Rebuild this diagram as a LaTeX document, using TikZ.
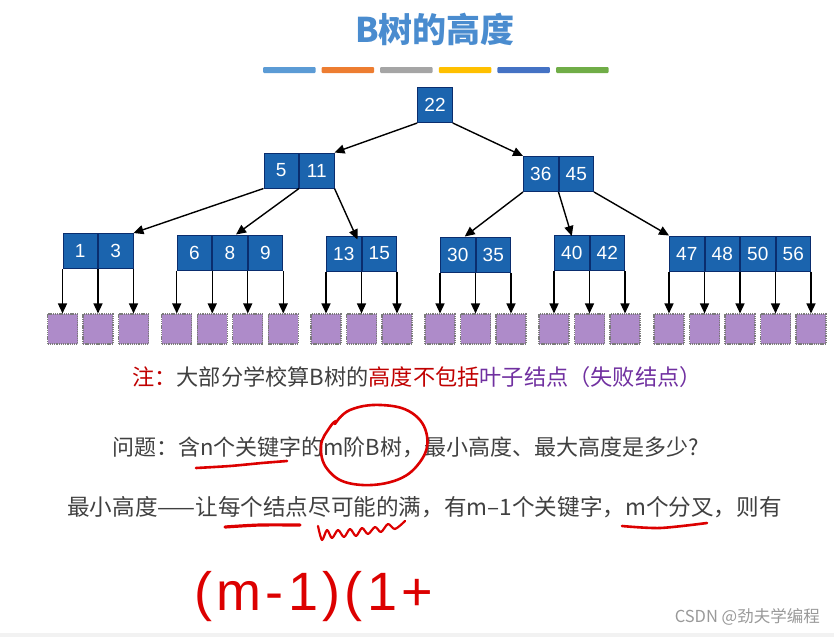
\documentclass[tikz,border=0pt]{standalone}
\usepackage{fontspec}
\setmainfont{Liberation Sans}
\newfontfamily\cjk{Noto Sans CJK SC}
\usetikzlibrary{arrows.meta,positioning}
\definecolor{keyblue}{HTML}{1B64AE}
\definecolor{keyline}{HTML}{0A2D6E}
\definecolor{leafpurple}{HTML}{AE8BC9}
\definecolor{leafline}{HTML}{7A7A7A}
\definecolor{titleblue}{HTML}{4A8CCF}
\definecolor{notered}{HTML}{C00000}
\definecolor{notepurple}{HTML}{7030A0}
\definecolor{textgray}{HTML}{404040}
\definecolor{inkred}{HTML}{DC0000}
\definecolor{barblue}{HTML}{5B9BD5}
\definecolor{barorange}{HTML}{ED7D31}
\definecolor{bargray}{HTML}{A5A5A5}
\definecolor{bargold}{HTML}{FFC000}
\definecolor{bardarkblue}{HTML}{4472C4}
\definecolor{bargreen}{HTML}{70AD47}

\begin{document}
\begin{tikzpicture}[x=1pt, y=-1pt,
  key/.style={draw=keyline, line width=1pt, fill=keyblue, minimum width=34.5pt, minimum height=35pt, inner sep=0pt, text=white, font=\fontsize{19}{19}\selectfont},
  leaf/.style={draw=leafline, dash pattern=on 1.3pt off 0.9pt, line width=1.1pt, fill=leafpurple, minimum size=30pt, inner sep=0pt},
  arr/.style={->, line width=1.4pt, black},
  txt/.style={anchor=west, inner sep=0pt, font=\cjk\fontsize{22.2}{24}\selectfont},
  ink/.style={draw=inkred, line width=2.6pt, line cap=round, line join=round},
  >={Triangle[length=10pt,width=9pt]}
]
\useasboundingbox (0,0) rectangle (834,637);
\fill[black!5] (0,633) rectangle (834,637);

% title and colour bars
\node[font=\cjk\bfseries\fontsize{34}{38}\selectfont, text=titleblue] (title) at (435,29) {B树的高度};
\foreach \c [count=\i from 0] in {barblue,barorange,bargray,bargold,bardarkblue,bargreen}
  \fill[\c, rounded corners=1pt] (263+58.6*\i,67) rectangle ++(52.5,6);

% B-tree keys
\node[key] (k22) at (435,105) {22};
\node[key] (k5) at (281.25,170.5) {5};
\node[key, right=0pt of k5] (k11) {11};
\node[key] (k36) at (540.75,174) {36};
\node[key, right=0pt of k36] (k45) {45};
\node[key] (k1) at (80.25,251) {1};
\node[key, right=0pt of k1] (k3) {3};
\node[key] (k6) at (194.5,252.5) {6};
\node[key, right=0pt of k6] (k8) {8};
\node[key, right=0pt of k8] (k9) {9};
\node[key] (k13) at (343.75,253.5) {13};
\node[key, right=0pt of k13] (k15) {15};
\node[key] (k30) at (457.75,254.5) {30};
\node[key, right=0pt of k30] (k35) {35};
\node[key] (k40) at (571.75,253) {40};
\node[key, right=0pt of k40] (k42) {42};
\node[key] (k47) at (686.75,253.5) {47};
\node[key, right=0pt of k47] (k48) {48};
\node[key, right=0pt of k48] (k50) {50};
\node[key, right=0pt of k50] (k56) {56};

\draw[arr] (k22.south west) -- (k11.north east);
\draw[arr] (k22.south east) -- (k36.north west);
\draw[arr] (k5.south west) -- (k3.north east);
\draw[arr] (k5.south east) -- ([xshift=6pt]k8.north);
\draw[arr] (k11.south east) -- ([xshift=-4pt,yshift=-4pt]k13.north east);
\draw[arr] (k36.south west) -- ([xshift=7pt]k30.north);
\draw[arr] (k36.south east) -- ([yshift=-1pt]k40.north);
\draw[arr] (k45.south east) -- (k47.north west);

% leaves (failure nodes)
\foreach \p [count=\i] in {k1.south west,k1.south east,k3.south east,
    k6.south west,k6.south east,k8.south east,k9.south east,
    k13.south west,k13.south east,k15.south east,
    k30.south west,k30.south east,k35.south east,
    k40.south west,k40.south east,k42.south east,
    k47.south west,k47.south east,k48.south east,k50.south east,k56.south east}
{
  \node[leaf] (f\i) at (\p |- 0,329) {};
  \draw[arr] (\p) -- (f\i);
}

% notes
\node[txt] (note) at (132,377) {\textcolor{notered}{注：}\textcolor{textgray}{大部分学校算B树的}\textcolor{notered}{高度不包括}\textcolor{notepurple}{叶子结点（失败结点）}};
\node[txt, text=textgray, font=\cjk\fontsize{22}{24}\selectfont] (ask) at (112,447) {问题：含n个关键字的m阶B树，最小高度、最大高度是多少?};
\node[txt, text=textgray, font=\cjk\fontsize{22.6}{24}\selectfont] (minh) at (67,507) {最小高度——让每个结点尽可能的满，有m–1个关键字，m个分叉，则有};

% handwriting
\draw[ink] plot[smooth, tension=0.7] coordinates {(336,421) (330,427) (321,446) (328,470) (353,484) (394,481) (420,462) (427,436) (412,413) (381,405) (350,410) (335,424)};
\draw[ink] plot[smooth] coordinates {(196,468) (230,466) (262,463) (287,461)};
\draw[ink, line width=3.2pt] plot[smooth] coordinates {(225,527) (260,525) (300,525)};
\draw[ink, line width=2.2pt] plot[smooth] coordinates {(318,526) (322,540) (327,530) (332,538) (338,530) (344,537) (350,529) (356,536) (362,528) (368,534) (375,527) (381,532) (388,524) (395,529) (405,521)};
\draw[ink] plot[smooth] coordinates {(622,526) (660,528) (707,523)};
\node[anchor=west, inner sep=0pt, text=inkred, font=\fontsize{54}{58}\selectfont\addfontfeature{LetterSpace=8}] (formula) at (194,597) {(m-1)(1+};

\node[anchor=east, inner sep=0pt, text=black!40, font=\cjk\fontsize{16.5}{18}\selectfont] (mark) at (820,617) {CSDN @劲夫学编程};
\end{tikzpicture}
\end{document}
